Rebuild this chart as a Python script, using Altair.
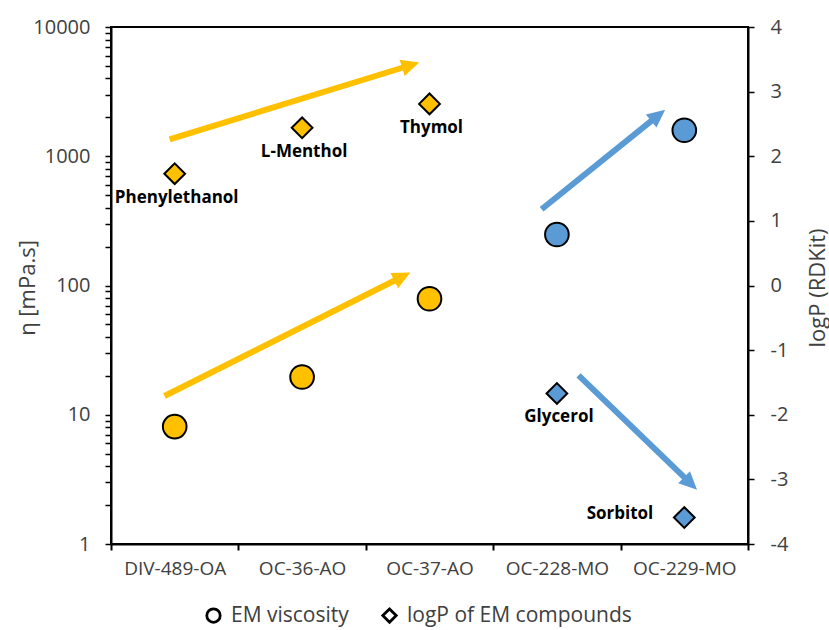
import math
import altair as alt
import pandas as pd

# ---- data ----
categories = ["DIV-489-OA", "OC-36-AO", "OC-37-AO", "OC-228-MO", "OC-229-MO"]
viscosity = [8.1, 19.6, 79, 248, 1590]          # mPa.s (left, log axis)
logp = [1.73, 2.44, 2.81, -1.67, -3.59]          # logP (right axis)
compounds = ["Phenylethanol", "L-Menthol", "Thymol", "Glycerol", "Sorbitol"]
groups = ["A", "A", "A", "B", "B"]

ORANGE = "#FFC000"
BLUE = "#5B9BD5"
group_color = {"A": ORANGE, "B": BLUE}

# arrow annotations (x in category units 0..5, y in logP units)
arrow_x1 = [0.46, 0.42, 3.38, 3.67]
arrow_y1 = [2.26, -1.71, 1.18, -1.39]
arrow_x2 = [2.42, 2.35, 4.35, 4.60]
arrow_y2 = [3.45, 0.20, 2.72, -3.16]
arrow_group = ["A", "A", "B", "B"]

series_names = ["EM viscosity", "logP of EM compounds"]

# ---- layout ----
W, H = 637, 517
FONT = "Open Sans"
GRAY = "#404040"
HEAD_LEN = 18.0

pts = pd.DataFrame({
    "x": [i + 0.5 for i in range(len(categories))],
    "cat": categories,
    "visc": viscosity,
    "logp": logp,
    "compound": compounds,
    "color": [group_color[g] for g in groups],
    "s_visc": series_names[0],
    "s_logp": series_names[1],
})

rows = []
for x1, y1, x2, y2, g in zip(arrow_x1, arrow_y1, arrow_x2, arrow_y2, arrow_group):
    pdx = (x2 - x1) * W / 5.0
    pdy = (y2 - y1) * H / 8.0
    plen = math.hypot(pdx, pdy)
    f = (plen - HEAD_LEN * 0.7) / plen
    ang = math.degrees(math.atan2(pdx, pdy)) % 360
    rows.append({"x1": x1, "y1": y1, "xs": x1 + (x2 - x1) * f, "ys": y1 + (y2 - y1) * f,
                 "x2": x2, "y2": y2, "angle": ang, "color": group_color[g]})
arrows = pd.DataFrame(rows)

label_arr = "[" + ",".join("'%s'" % c for c in categories) + "]"
x_axis = alt.Axis(
    values=list(range(len(categories) + 1)),
    labelExpr="datum.value < %d ? %s[datum.value] : ''" % (len(categories), label_arr),
    labelOffset=W / 5.0 / 2.0,
    labelFlush=False, labelOverlap=False, labelBound=False,
    title=None, grid=False, tickSize=6, tickColor="black", tickWidth=2,
    domainColor="black", domainWidth=2, labelPadding=9,
    labelFont=FONT, labelFontSize=19, labelColor=GRAY,
)
x_scale = alt.Scale(domain=[0, 5], nice=False, zero=False)

def X(field):
    return alt.X(field, type="quantitative", scale=x_scale, axis=x_axis)

log_vals = []
for d in range(0, 4):
    for m in range(1, 10):
        log_vals.append(m * 10 ** d)
log_vals.append(10000)

left_axis = alt.Axis(
    orient="left", values=log_vals,
    labelExpr="indexof(['1','10','100','1000','10000'], format(datum.value, 'd')) >= 0 ? format(datum.value, 'd') : ''",
    title="η [mPa.s]", titleFont=FONT, titleFontSize=22, titleFontWeight="normal",
    titleColor=GRAY, titleAngle=270, titleBaseline="middle", titleAlign="center",
    titleX=-84, titleY=H / 2.0 + 2,
    grid=False, tickSize=6, tickColor="black", tickWidth=1.5,
    domainColor="black", domainWidth=2, labelPadding=15,
    labelFont=FONT, labelFontSize=20, labelColor=GRAY, labelOverlap=False,
)
right_axis = alt.Axis(
    orient="right", values=list(range(-4, 5)),
    labelExpr="datum.value < 0 ? '-' + abs(datum.value) : '' + datum.value",
    title="logP (RDKit)", titleFont=FONT, titleFontSize=22, titleFontWeight="normal",
    titleColor=GRAY, titleAngle=270, titleBaseline="middle", titleAlign="center",
    titleX=69, titleY=H / 2.0 + 2,
    grid=False, tickSize=6, tickColor="black", tickWidth=1.5,
    domainColor="black", domainWidth=2, labelPadding=16,
    labelFont=FONT, labelFontSize=20, labelColor=GRAY,
)
y_right_scale = alt.Scale(domain=[-4, 4], nice=False, zero=False)

shape_scale = alt.Scale(domain=series_names, range=["circle", "diamond"])
legend = alt.Legend(
    orient="none", direction="horizontal", legendX=92, legendY=578, title=None,
    labelFont=FONT, labelFontSize=21, labelColor=GRAY, labelLimit=0, symbolSize=180,
    symbolStrokeWidth=2.8, symbolStrokeColor="black", symbolFillColor="white",
    symbolType="circle", columnPadding=28, labelOffset=7,
)

circles = alt.Chart(pts).mark_point(
    filled=True, size=560, stroke="black", strokeWidth=2, opacity=1
).encode(
    x=X("x"),
    y=alt.Y("visc:Q", scale=alt.Scale(type="log", domain=[1, 10000], nice=False), axis=left_axis),
    fill=alt.Fill("color:N", scale=None),
    shape=alt.Shape("s_visc:N", scale=shape_scale, legend=legend),
)

diamonds = alt.Chart(pts).mark_point(
    filled=True, size=430, stroke="black", strokeWidth=2, opacity=1
).encode(
    x=X("x"),
    y=alt.Y("logp:Q", scale=y_right_scale, axis=right_axis),
    fill=alt.Fill("color:N", scale=None),
    shape=alt.Shape("s_logp:N", scale=shape_scale, legend=legend),
)

pts_below = pts[pts["compound"] != "Sorbitol"]
pts_left = pts[pts["compound"] == "Sorbitol"]

labels_below = alt.Chart(pts_below).mark_text(
    font=FONT, fontSize=17, fontWeight="bold", color="black", dy=24, dx=2, baseline="middle"
).encode(x=X("x"), y=alt.Y("logp:Q", scale=y_right_scale, axis=right_axis), text="compound:N")

labels_left = alt.Chart(pts_left).mark_text(
    font=FONT, fontSize=17, fontWeight="bold", color="black", dx=-31, dy=-4, align="right",
    baseline="middle"
).encode(x=X("x"), y=alt.Y("logp:Q", scale=y_right_scale, axis=right_axis), text="compound:N")

shafts = alt.Chart(arrows).mark_rule(strokeWidth=6).encode(
    x=X("x1"), x2="xs", y=alt.Y("y1:Q", scale=y_right_scale, axis=right_axis), y2="ys",
    color=alt.Color("color:N", scale=None),
)
heads = alt.Chart(arrows).mark_point(
    shape="M0,0 L0.47,1 L-0.47,1 Z", size=(2 * HEAD_LEN) ** 2, filled=True, opacity=1
).encode(
    x=X("x2"), y=alt.Y("y2:Q", scale=y_right_scale, axis=right_axis),
    angle=alt.Angle("angle:Q", scale=None),
    fill=alt.Fill("color:N", scale=None),
)

right_layer = alt.layer(shafts, heads, diamonds, labels_below, labels_left)

chart = alt.layer(circles, right_layer).resolve_scale(y="independent").properties(
    width=W, height=H,
    autosize=alt.AutoSizeParams(type="none"),
    padding={"left": 111, "top": 27, "right": 829 - 111 - W, "bottom": 630 - 27 - H},
    background="white",
).configure_view(stroke="black", strokeWidth=2)

chart.save("out.html", embed_options={"renderer": "svg", "actions": False})
